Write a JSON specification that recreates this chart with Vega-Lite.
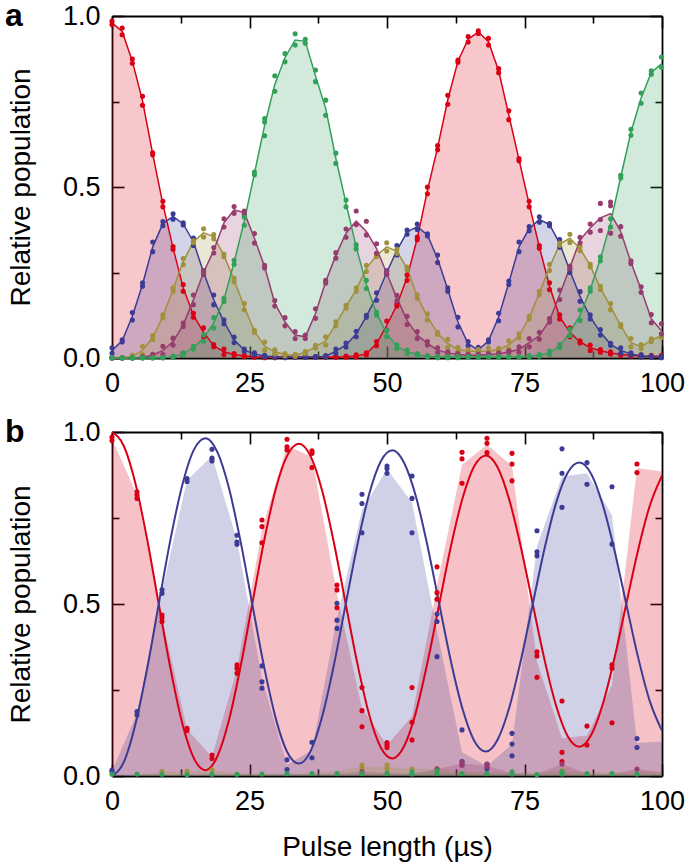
{
  "$schema": "https://vega.github.io/schema/vega-lite/v6.json",
  "background": "white",
  "padding": {"left": 5, "right": 0, "top": 0, "bottom": 2},
  "spacing": 15,
  "config": {
    "font": "Liberation Sans",
    "view": {"stroke": null},
    "axis": {
      "grid": false, "domainColor": "black", "domainWidth": 1.8, "tickColor": "black", "tickWidth": 1.6,
      "labelColor": "black", "labelFont": "Liberation Sans", "labelFontSize": 27,
      "titleFont": "Liberation Sans", "titleFontSize": 28, "titleFontWeight": "normal", "titleColor": "black",
      "labelFlush": false, "labelOverlap": false, "minExtent": 0
    }
  },
  "datasets": {
    "pa": [
      {"t":0,"R":0.98,"B":0.022,"O":0,"P":0,"G":0,"r":[0.985,0.975],"b":[0.03,0.014],"o":[0.001,0],"p":[0.001,0],"g":[0.001,0]},
      {"t":1.85,"R":0.955,"B":0.05,"O":0,"P":0,"G":0,"r":[0.965,0.945],"b":[0.053,0.047],"o":[0.001,0],"p":[0.001,0],"g":[0.001,0]},
      {"t":3.7,"R":0.868,"B":0.122,"O":0.005,"P":0,"G":0,"r":[0.874,0.862],"b":[0.133,0.111],"o":[0.008,0.003],"p":[0.001,0],"g":[0.001,0]},
      {"t":5.55,"R":0.752,"B":0.215,"O":0.022,"P":0.002,"G":0,"r":[0.765,0.739],"b":[0.22,0.21],"o":[0.034,0.01],"p":[0.004,0.001],"g":[0.001,0]},
      {"t":7.4,"R":0.597,"B":0.325,"O":0.06,"P":0.008,"G":0,"r":[0.6,0.594],"b":[0.339,0.311],"o":[0.066,0.054],"p":[0.011,0.006],"g":[0.001,0]},
      {"t":9.25,"R":0.45,"B":0.393,"O":0.122,"P":0.022,"G":0.001,"r":[0.458,0.442],"b":[0.399,0.387],"o":[0.126,0.118],"p":[0.034,0.01],"g":[0.002,0]},
      {"t":11.1,"R":0.322,"B":0.414,"O":0.2,"P":0.048,"G":0.004,"r":[0.326,0.318],"b":[0.422,0.406],"o":[0.205,0.195],"p":[0.058,0.038],"g":[0.006,0.002]},
      {"t":12.95,"R":0.205,"B":0.392,"O":0.282,"P":0.097,"G":0.012,"r":[0.215,0.195],"b":[0.395,0.389],"o":[0.291,0.273],"p":[0.102,0.092],"g":[0.015,0.009]},
      {"t":14.8,"R":0.125,"B":0.34,"O":0.34,"P":0.17,"G":0.03,"r":[0.131,0.119],"b":[0.351,0.329],"o":[0.343,0.337],"p":[0.184,0.156],"g":[0.034,0.026]},
      {"t":16.65,"R":0.075,"B":0.25,"O":0.366,"P":0.25,"G":0.058,"r":[0.088,0.062],"b":[0.255,0.245],"o":[0.378,0.354],"p":[0.254,0.246],"g":[0.067,0.049]},
      {"t":18.5,"R":0.036,"B":0.17,"O":0.355,"P":0.315,"G":0.103,"r":[0.039,0.033],"b":[0.184,0.156],"o":[0.361,0.349],"p":[0.323,0.307],"g":[0.118,0.088]},
      {"t":20.35,"R":0.018,"B":0.106,"O":0.3,"P":0.395,"G":0.17,"r":[0.026,0.01],"b":[0.112,0.1],"o":[0.304,0.296],"p":[0.407,0.383],"g":[0.175,0.165]},
      {"t":22.2,"R":0.01,"B":0.053,"O":0.228,"P":0.433,"G":0.28,"r":[0.013,0.007],"b":[0.061,0.045],"o":[0.233,0.223],"p":[0.443,0.423],"g":[0.286,0.274]},
      {"t":24.05,"R":0.006,"B":0.023,"O":0.15,"P":0.425,"G":0.4,"r":[0.008,0.004],"b":[0.026,0.02],"o":[0.159,0.141],"p":[0.43,0.42],"g":[0.412,0.388]},
      {"t":25.9,"R":0.004,"B":0.012,"O":0.078,"P":0.35,"G":0.54,"r":[0.006,0.002],"b":[0.015,0.009],"o":[0.081,0.075],"p":[0.364,0.336],"g":[0.544,0.536]},
      {"t":27.75,"R":0.003,"B":0.006,"O":0.035,"P":0.267,"G":0.68,"r":[0.005,0.001],"b":[0.008,0.004],"o":[0.047,0.023],"p":[0.271,0.263],"g":[0.7,0.69,0.65]},
      {"t":29.6,"R":0.003,"B":0.004,"O":0.018,"P":0.16,"G":0.8,"r":[0.005,0.001],"b":[0.006,0.002],"o":[0.024,0.012],"p":[0.168,0.152],"g":[0.825,0.78]},
      {"t":31.45,"R":0.003,"B":0.003,"O":0.01,"P":0.106,"G":0.878,"r":[0.004,0.002],"b":[0.005,0.001],"o":[0.013,0.007],"p":[0.118,0.094],"g":[0.89,0.866]},
      {"t":33.3,"R":0.003,"B":0.003,"O":0.008,"P":0.067,"G":0.93,"r":[0.004,0.002],"b":[0.004,0.002],"o":[0.011,0.005],"p":[0.077,0.057],"g":[0.948,0.915]},
      {"t":35.15,"R":0.003,"B":0.003,"O":0.016,"P":0.062,"G":0.926,"r":[0.004,0.002],"b":[0.004,0.002],"o":[0.019,0.013],"p":[0.067,0.057],"g":[0.932,0.92]},
      {"t":37,"R":0.003,"B":0.003,"O":0.033,"P":0.13,"G":0.825,"r":[0.004,0.002],"b":[0.004,0.002],"o":[0.037,0.029],"p":[0.144,0.116],"g":[0.842,0.808]},
      {"t":38.85,"R":0.003,"B":0.005,"O":0.05,"P":0.223,"G":0.73,"r":[0.004,0.002],"b":[0.007,0.003],"o":[0.062,0.038],"p":[0.227,0.219],"g":[0.754,0.71]},
      {"t":40.7,"R":0.003,"B":0.02,"O":0.1,"P":0.3,"G":0.584,"r":[0.004,0.002],"b":[0.026,0.014],"o":[0.106,0.094],"p":[0.308,0.292],"g":[0.599,0.569]},
      {"t":42.55,"R":0.004,"B":0.038,"O":0.15,"P":0.365,"G":0.452,"r":[0.006,0.002],"b":[0.044,0.032],"o":[0.154,0.146],"p":[0.377,0.353],"g":[0.462,0.442]},
      {"t":44.4,"R":0.006,"B":0.07,"O":0.2,"P":0.4,"G":0.325,"r":[0.009,0.003],"b":[0.078,0.062],"o":[0.205,0.195],"p":[0.43,0.39],"g":[0.331,0.319]},
      {"t":46.25,"R":0.012,"B":0.122,"O":0.262,"P":0.37,"G":0.215,"r":[0.015,0.009],"b":[0.125,0.119],"o":[0.271,0.253],"p":[0.4,0.36],"g":[0.227,0.203]},
      {"t":48.1,"R":0.042,"B":0.18,"O":0.3,"P":0.32,"G":0.13,"r":[0.048,0.036],"b":[0.191,0.169],"o":[0.303,0.297],"p":[0.334,0.306],"g":[0.134,0.126]},
      {"t":49.95,"R":0.095,"B":0.25,"O":0.325,"P":0.248,"G":0.072,"r":[0.108,0.082],"b":[0.255,0.245],"o":[0.337,0.313],"p":[0.252,0.244],"g":[0.081,0.063]},
      {"t":51.8,"R":0.155,"B":0.315,"O":0.312,"P":0.175,"G":0.033,"r":[0.158,0.152],"b":[0.329,0.301],"o":[0.318,0.306],"p":[0.183,0.167],"g":[0.038,0.028]},
      {"t":53.65,"R":0.235,"B":0.368,"O":0.262,"P":0.11,"G":0.018,"r":[0.243,0.227],"b":[0.374,0.362],"o":[0.266,0.258],"p":[0.122,0.098],"g":[0.023,0.013]},
      {"t":55.5,"R":0.35,"B":0.384,"O":0.18,"P":0.067,"G":0.01,"r":[0.354,0.346],"b":[0.392,0.376],"o":[0.185,0.175],"p":[0.077,0.057],"g":[0.013,0.007]},
      {"t":57.35,"R":0.49,"B":0.36,"O":0.12,"P":0.043,"G":0.005,"r":[0.5,0.48],"b":[0.363,0.357],"o":[0.129,0.111],"p":[0.048,0.038],"g":[0.007,0.003]},
      {"t":59.2,"R":0.615,"B":0.29,"O":0.072,"P":0.023,"G":0.003,"r":[0.621,0.609],"b":[0.301,0.279],"o":[0.075,0.069],"p":[0.03,0.016],"g":[0.005,0.001]},
      {"t":61.05,"R":0.755,"B":0.2,"O":0.043,"P":0.015,"G":0.003,"r":[0.768,0.742],"b":[0.205,0.195],"o":[0.055,0.031],"p":[0.018,0.012],"g":[0.005,0.001]},
      {"t":62.9,"R":0.868,"B":0.105,"O":0.025,"P":0.01,"G":0.003,"r":[0.871,0.865],"b":[0.119,0.091],"o":[0.031,0.019],"p":[0.013,0.007],"g":[0.005,0.001]},
      {"t":64.75,"R":0.932,"B":0.042,"O":0.02,"P":0.008,"G":0.003,"r":[0.94,0.924],"b":[0.048,0.036],"o":[0.024,0.016],"p":[0.011,0.005],"g":[0.004,0.002]},
      {"t":66.6,"R":0.953,"B":0.023,"O":0.02,"P":0.008,"G":0.003,"r":[0.957,0.949],"b":[0.031,0.015],"o":[0.025,0.015],"p":[0.011,0.005],"g":[0.004,0.002]},
      {"t":68.45,"R":0.925,"B":0.05,"O":0.02,"P":0.01,"G":0.003,"r":[0.935,0.915],"b":[0.053,0.047],"o":[0.029,0.011],"p":[0.013,0.007],"g":[0.004,0.002]},
      {"t":70.3,"R":0.84,"B":0.12,"O":0.025,"P":0.012,"G":0.003,"r":[0.846,0.834],"b":[0.131,0.109],"o":[0.028,0.022],"p":[0.015,0.009],"g":[0.004,0.002]},
      {"t":72.15,"R":0.71,"B":0.22,"O":0.038,"P":0.018,"G":0.003,"r":[0.723,0.697],"b":[0.225,0.215],"o":[0.05,0.026],"p":[0.021,0.015],"g":[0.004,0.002]},
      {"t":74,"R":0.58,"B":0.325,"O":0.065,"P":0.025,"G":0.003,"r":[0.583,0.577],"b":[0.339,0.311],"o":[0.071,0.059],"p":[0.033,0.017],"g":[0.004,0.002]},
      {"t":75.85,"R":0.45,"B":0.378,"O":0.118,"P":0.045,"G":0.005,"r":[0.458,0.442],"b":[0.384,0.372],"o":[0.122,0.114],"p":[0.057,0.033],"g":[0.007,0.003]},
      {"t":77.7,"R":0.325,"B":0.405,"O":0.19,"P":0.065,"G":0.008,"r":[0.329,0.321],"b":[0.413,0.397],"o":[0.195,0.185],"p":[0.075,0.055],"g":[0.011,0.005]},
      {"t":79.55,"R":0.21,"B":0.39,"O":0.265,"P":0.11,"G":0.015,"r":[0.22,0.2],"b":[0.393,0.387],"o":[0.274,0.256],"p":[0.115,0.105],"g":[0.02,0.01]},
      {"t":81.4,"R":0.12,"B":0.335,"O":0.333,"P":0.185,"G":0.035,"r":[0.126,0.114],"b":[0.346,0.324],"o":[0.336,0.33],"p":[0.199,0.171],"g":[0.039,0.031]},
      {"t":83.25,"R":0.075,"B":0.255,"O":0.35,"P":0.265,"G":0.075,"r":[0.088,0.062],"b":[0.26,0.25],"o":[0.362,0.338],"p":[0.269,0.261],"g":[0.084,0.066]},
      {"t":85.1,"R":0.047,"B":0.18,"O":0.32,"P":0.345,"G":0.125,"r":[0.05,0.044],"b":[0.194,0.166],"o":[0.326,0.314],"p":[0.353,0.337],"g":[0.14,0.11]},
      {"t":86.95,"R":0.03,"B":0.12,"O":0.27,"P":0.38,"G":0.2,"r":[0.038,0.022],"b":[0.126,0.114],"o":[0.274,0.266],"p":[0.392,0.368],"g":[0.205,0.195]},
      {"t":88.8,"R":0.021,"B":0.075,"O":0.205,"P":0.41,"G":0.29,"r":[0.025,0.017],"b":[0.083,0.067],"o":[0.21,0.2],"p":[0.452,0.405,0.373],"g":[0.296,0.284]},
      {"t":90.65,"R":0.015,"B":0.04,"O":0.15,"P":0.422,"G":0.395,"r":[0.018,0.012],"b":[0.043,0.037],"o":[0.159,0.141],"p":[0.456,0.445,0.365],"g":[0.407,0.383]},
      {"t":92.5,"R":0.01,"B":0.022,"O":0.095,"P":0.37,"G":0.53,"r":[0.013,0.007],"b":[0.03,0.014],"o":[0.098,0.092],"p":[0.384,0.356],"g":[0.534,0.526]},
      {"t":94.35,"R":0.008,"B":0.012,"O":0.045,"P":0.28,"G":0.66,"r":[0.011,0.005],"b":[0.015,0.009],"o":[0.057,0.033],"p":[0.284,0.276],"g":[0.669,0.651]},
      {"t":96.2,"R":0.006,"B":0.006,"O":0.033,"P":0.2,"G":0.76,"r":[0.009,0.003],"b":[0.009,0.003],"o":[0.039,0.027],"p":[0.208,0.192],"g":[0.775,0.745]},
      {"t":98.05,"R":0.005,"B":0.004,"O":0.052,"P":0.115,"G":0.835,"r":[0.008,0.002],"b":[0.006,0.002],"o":[0.056,0.048],"p":[0.127,0.103],"g":[0.84,0.83]},
      {"t":99.9,"R":0.005,"B":0.003,"O":0.065,"P":0.08,"G":0.86,"r":[0.008,0.002],"b":[0.005,0.001],"o":[0.07,0.06],"p":[0.1,0.07],"g":[0.88,0.85]}
    ],
    "pb": [
      {"t":0,"R":0.98,"B":0.015,"O":0,"P":0.002,"G":0.005,"r":[0.985,0.975],"b":[0.017,0.012],"o":[],"p":[],"g":[0.005]},
      {"t":4.55,"R":0.817,"B":0.182,"O":0.003,"P":0.002,"G":0.005,"r":[0.826,0.817,0.807],"b":[0.187,0.177],"o":[],"p":[],"g":[0.006]},
      {"t":9.09,"R":0.459,"B":0.536,"O":0.013,"P":0.003,"G":0.005,"r":[0.468,0.46,0.449],"b":[0.541,0.531],"o":[0.013],"p":[],"g":[0.005]},
      {"t":13.64,"R":0.136,"B":0.86,"O":0.013,"P":0.003,"G":0.004,"r":[0.139,0.132],"b":[0.865,0.856],"o":[0.014],"p":[],"g":[0.004]},
      {"t":18.18,"R":0.056,"B":0.93,"O":0.017,"P":0.004,"G":0.005,"r":[0.061,0.051],"b":[0.95,0.924,0.916],"o":[0.018],"p":[],"g":[0.005]},
      {"t":22.73,"R":0.312,"B":0.685,"O":0.008,"P":0.004,"G":0.005,"r":[0.323,0.313,0.299],"b":[0.7,0.68,0.674],"o":[],"p":[],"g":[0.005]},
      {"t":27.27,"R":0.716,"B":0.283,"O":0.006,"P":0.004,"G":0.005,"r":[0.744,0.725,0.678],"b":[0.32,0.274,0.255],"o":[],"p":[],"g":[0.006]},
      {"t":31.82,"R":0.961,"B":0.033,"O":0.006,"P":0.005,"G":0.006,"r":[0.979,0.957,0.948],"b":[0.047,0.019],"o":[],"p":[],"g":[0.007]},
      {"t":36.36,"R":0.927,"B":0.075,"O":0.008,"P":0.005,"G":0.006,"r":[0.945,0.938,0.897],"b":[0.098,0.053],"o":[],"p":[],"g":[0.007]},
      {"t":40.91,"R":0.528,"B":0.461,"O":0.015,"P":0.006,"G":0.006,"r":[0.555,0.541,0.489],"b":[0.502,0.453,0.429],"o":[],"p":[],"g":[0.007]},
      {"t":45.45,"R":0.197,"B":0.773,"O":0.027,"P":0.012,"G":0.006,"r":[0.257,0.19,0.143],"b":[0.819,0.792,0.707],"o":[0.032,0.022],"p":[0.012],"g":[0.007]},
      {"t":50,"R":0.09,"B":0.892,"O":0.027,"P":0.008,"G":0.006,"r":[0.097,0.09,0.083],"b":[0.901,0.894,0.88],"o":[0.032,0.022],"p":[],"g":[0.007]},
      {"t":54.55,"R":0.173,"B":0.795,"O":0.02,"P":0.006,"G":0.008,"r":[0.257,0.156,0.105],"b":[0.872,0.807,0.707],"o":[0.02],"p":[],"g":[0.012,0.006]},
      {"t":59.09,"R":0.552,"B":0.422,"O":0.02,"P":0.02,"G":0.01,"r":[0.608,0.533,0.514],"b":[0.471,0.449,0.347],"o":[0.022],"p":[0.02],"g":[0.015,0.007]},
      {"t":63.64,"R":0.905,"B":0.069,"O":0.012,"P":0.036,"G":0.007,"r":[0.941,0.922,0.851],"b":[0.134,0.042,0.032],"o":[],"p":[0.04,0.032],"g":[0.007]},
      {"t":68.18,"R":0.963,"B":0.029,"O":0.01,"P":0.03,"G":0.007,"r":[0.982,0.967,0.94],"b":[0.035,0.022],"o":[],"p":[0.033,0.027],"g":[0.007]},
      {"t":72.73,"R":0.901,"B":0.092,"O":0.008,"P":0.008,"G":0.008,"r":[0.938,0.907,0.858],"b":[0.124,0.093,0.059],"o":[],"p":[],"g":[0.012,0.006]},
      {"t":77.27,"R":0.332,"B":0.668,"O":0.01,"P":0.006,"G":0.005,"r":[0.361,0.349,0.287],"b":[0.713,0.652,0.64],"o":[],"p":[],"g":[0.004]},
      {"t":81.82,"R":0.11,"B":0.871,"O":0.015,"P":0.035,"G":0.008,"r":[0.218,0.069,0.042],"b":[0.951,0.88,0.781],"o":[0.015],"p":[0.035],"g":[0.012,0.006]},
      {"t":86.36,"R":0.118,"B":0.88,"O":0.012,"P":0.006,"G":0.006,"r":[0.145,0.09],"b":[0.911,0.848],"o":[],"p":[],"g":[0.007]},
      {"t":90.91,"R":0.264,"B":0.758,"O":0.01,"P":0.006,"G":0.006,"r":[0.323,0.313,0.155],"b":[0.841,0.674],"o":[],"p":[],"g":[0.007]},
      {"t":95.45,"R":0.895,"B":0.096,"O":0.012,"P":0.02,"G":0.006,"r":[0.907,0.882],"b":[0.109,0.083],"o":[],"p":[0.02],"g":[0.006]},
      {"t":100,"R":0.885,"B":0.1,"O":0.012,"P":0.01,"G":0.006,"r":[],"b":[],"o":[],"p":[],"g":[]}
    ],
    "fit": [
      {"t":0,"R":1.0,"B":0.0},{"t":2.125,"R":0.96,"B":0.04},{"t":4.25,"R":0.851,"B":0.15},{"t":6.375,"R":0.689,"B":0.311},
      {"t":8.5,"R":0.5,"B":0.5},{"t":10.625,"R":0.313,"B":0.687},{"t":12.75,"R":0.155,"B":0.844},{"t":14.875,"R":0.052,"B":0.948},
      {"t":17,"R":0.017,"B":0.982},{"t":19.125,"R":0.056,"B":0.943},{"t":21.25,"R":0.161,"B":0.838},{"t":23.375,"R":0.318,"B":0.682},
      {"t":25.5,"R":0.5,"B":0.5},{"t":27.625,"R":0.681,"B":0.32},{"t":29.75,"R":0.833,"B":0.169},{"t":31.875,"R":0.932,"B":0.069},
      {"t":34,"R":0.966,"B":0.036},{"t":36.125,"R":0.929,"B":0.073},{"t":38.25,"R":0.827,"B":0.175},{"t":40.375,"R":0.676,"B":0.325},
      {"t":42.5,"R":0.5,"B":0.5},{"t":44.625,"R":0.326,"B":0.673},{"t":46.75,"R":0.179,"B":0.819},{"t":48.875,"R":0.083,"B":0.915},
      {"t":51,"R":0.051,"B":0.947},{"t":53.125,"R":0.087,"B":0.91},{"t":55.25,"R":0.185,"B":0.813},{"t":57.375,"R":0.331,"B":0.668},
      {"t":59.5,"R":0.5,"B":0.5},{"t":61.625,"R":0.668,"B":0.333},{"t":63.75,"R":0.808,"B":0.194},{"t":65.875,"R":0.901,"B":0.102},
      {"t":68,"R":0.932,"B":0.071},{"t":70.125,"R":0.897,"B":0.106},{"t":72.25,"R":0.802,"B":0.2},{"t":74.375,"R":0.663,"B":0.339},
      {"t":76.5,"R":0.5,"B":0.5},{"t":78.625,"R":0.339,"B":0.66},{"t":80.75,"R":0.204,"B":0.794},{"t":82.875,"R":0.115,"B":0.882},
      {"t":85,"R":0.085,"B":0.911},{"t":87.125,"R":0.119,"B":0.878},{"t":89.25,"R":0.21,"B":0.787},{"t":91.375,"R":0.344,"B":0.655},
      {"t":93.5,"R":0.5,"B":0.5},{"t":95.625,"R":0.655,"B":0.347},{"t":97.75,"R":0.784,"B":0.219},{"t":100,"R":0.873,"B":0.132}
    ]
  },
  "vconcat": [
    {
      "width": 550, "height": 342,
      "title": {"text": "a", "anchor": "start", "frame": "group", "orient": "top", "font": "Liberation Sans", "fontSize": 32, "fontWeight": "bold", "color": "black", "baseline": "alphabetic", "offset": 0, "dx": -107, "dy": 56},
      "data": {"name": "pa"},
      "layer": [
        {
          "transform": [{"fold": ["R", "B", "O", "P", "G"], "as": ["s", "v"]}],
          "mark": {"type": "area", "fillOpacity": 0.22},
          "encoding": {
            "x": {"field": "t", "type": "quantitative", "scale": {"domain": [0, 100], "nice": false},
              "axis": {"orient": "bottom", "values": [0, 12.5, 25, 37.5, 50, 62.5, 75, 87.5, 100], "format": "d",
                "labelExpr": "datum.value % 25 === 0 ? datum.label : ''",
                "tickSize": {"condition": {"test": "datum.value % 25 === 0", "value": -12}, "value": -7},
                "labelPadding": 24, "title": null}},
            "y": {"field": "v", "type": "quantitative", "stack": null, "scale": {"domain": [0, 1], "nice": false},
              "axis": {"orient": "left", "values": [0, 0.25, 0.5, 0.75, 1], "format": ".1f",
                "labelExpr": "datum.value % 0.5 === 0 ? datum.label : ''",
                "tickSize": {"condition": {"test": "datum.value % 0.5 === 0", "value": -12}, "value": -7},
                "labelPadding": 24, "title": "Relative population", "titlePadding": 27}},
            "color": {"field": "s", "type": "nominal", "legend": null,
              "scale": {"domain": ["R", "B", "O", "P", "G"], "range": ["#d90016", "#3c3c96", "#a0913c", "#963c6e", "#33a05a"]}}
          }
        },
        {
          "transform": [{"fold": ["R", "B", "O", "P", "G"], "as": ["s", "v"]}],
          "mark": {"type": "line", "strokeWidth": 1.5},
          "encoding": {
            "x": {"field": "t", "type": "quantitative",
              "axis": {"orient": "top", "values": [0, 12.5, 25, 37.5, 50, 62.5, 75, 87.5, 100], "labels": false,
                "tickSize": {"condition": {"test": "datum.value % 25 === 0", "value": -12}, "value": -7}, "title": null}},
            "y": {"field": "v", "type": "quantitative",
              "axis": {"orient": "right", "values": [0, 0.25, 0.5, 0.75, 1], "labels": false,
                "tickSize": {"condition": {"test": "datum.value % 0.5 === 0", "value": -12}, "value": -7}, "title": null}},
            "color": {"field": "s", "type": "nominal", "legend": null,
              "scale": {"domain": ["R", "B", "O", "P", "G"], "range": ["#d90016", "#3c3c96", "#a0913c", "#963c6e", "#33a05a"]}}
          }
        },
        {
          "transform": [{"fold": ["r", "b", "o", "p", "g"], "as": ["k", "d"]}, {"flatten": ["d"]}],
          "mark": {"type": "circle", "size": 26, "opacity": 1},
          "encoding": {
            "x": {"field": "t", "type": "quantitative", "axis": null},
            "y": {"field": "d", "type": "quantitative", "axis": null},
            "color": {"field": "k", "type": "nominal", "legend": null,
              "scale": {"domain": ["r", "b", "o", "p", "g"], "range": ["#d90016", "#3c3c96", "#a0913c", "#963c6e", "#33a05a"]}}
          }
        }
      ],
      "resolve": {"scale": {"color": "independent"}, "axis": {"x": "independent", "y": "independent"}}
    },
    {
      "width": 550, "height": 344,
      "title": {"text": "b", "anchor": "start", "frame": "group", "orient": "top", "font": "Liberation Sans", "fontSize": 32, "fontWeight": "bold", "color": "black", "baseline": "alphabetic", "offset": 0, "dx": -107, "dy": 56},
      "layer": [
        {
          "data": {"name": "pb"},
          "transform": [{"fold": ["R", "B", "O", "P", "G"], "as": ["s", "v"]}],
          "mark": {"type": "area", "fillOpacity": 0.24},
          "encoding": {
            "x": {"field": "t", "type": "quantitative", "scale": {"domain": [0, 100], "nice": false},
              "axis": {"orient": "bottom", "values": [0, 12.5, 25, 37.5, 50, 62.5, 75, 87.5, 100], "format": "d",
                "labelExpr": "datum.value % 25 === 0 ? datum.label : ''",
                "tickSize": {"condition": {"test": "datum.value % 25 === 0", "value": -12}, "value": -7},
                "labelPadding": 24, "title": "Pulse length (µs)", "titlePadding": 14}},
            "y": {"field": "v", "type": "quantitative", "stack": null, "scale": {"domain": [0, 1], "nice": false},
              "axis": {"orient": "left", "values": [0, 0.25, 0.5, 0.75, 1], "format": ".1f",
                "labelExpr": "datum.value % 0.5 === 0 ? datum.label : ''",
                "tickSize": {"condition": {"test": "datum.value % 0.5 === 0", "value": -12}, "value": -7},
                "labelPadding": 24, "title": "Relative population", "titlePadding": 27}},
            "color": {"field": "s", "type": "nominal", "legend": null,
              "scale": {"domain": ["R", "B", "O", "P", "G"], "range": ["#d90016", "#3c3c96", "#a0913c", "#963c6e", "#33a05a"]}}
          }
        },
        {
          "data": {"name": "fit"},
          "transform": [{"fold": ["R", "B"], "as": ["s", "v"]}],
          "mark": {"type": "line", "strokeWidth": 2, "interpolate": "monotone"},
          "encoding": {
            "x": {"field": "t", "type": "quantitative",
              "axis": {"orient": "top", "values": [0, 12.5, 25, 37.5, 50, 62.5, 75, 87.5, 100], "labels": false,
                "tickSize": {"condition": {"test": "datum.value % 25 === 0", "value": -12}, "value": -7}, "title": null}},
            "y": {"field": "v", "type": "quantitative",
              "axis": {"orient": "right", "values": [0, 0.25, 0.5, 0.75, 1], "labels": false,
                "tickSize": {"condition": {"test": "datum.value % 0.5 === 0", "value": -12}, "value": -7}, "title": null}},
            "color": {"field": "s", "type": "nominal", "legend": null,
              "scale": {"domain": ["R", "B"], "range": ["#d90016", "#3c3c96"]}}
          }
        },
        {
          "data": {"name": "pb"},
          "transform": [{"fold": ["r", "b", "o", "p", "g"], "as": ["k", "d"]}, {"flatten": ["d"]}],
          "mark": {"type": "circle", "size": 26, "opacity": 1},
          "encoding": {
            "x": {"field": "t", "type": "quantitative", "axis": null},
            "y": {"field": "d", "type": "quantitative", "axis": null},
            "color": {"field": "k", "type": "nominal", "legend": null,
              "scale": {"domain": ["r", "b", "o", "p", "g"], "range": ["#d90016", "#3c3c96", "#a0913c", "#963c6e", "#33a05a"]}}
          }
        }
      ],
      "resolve": {"scale": {"color": "independent"}, "axis": {"x": "independent", "y": "independent"}}
    }
  ]
}
